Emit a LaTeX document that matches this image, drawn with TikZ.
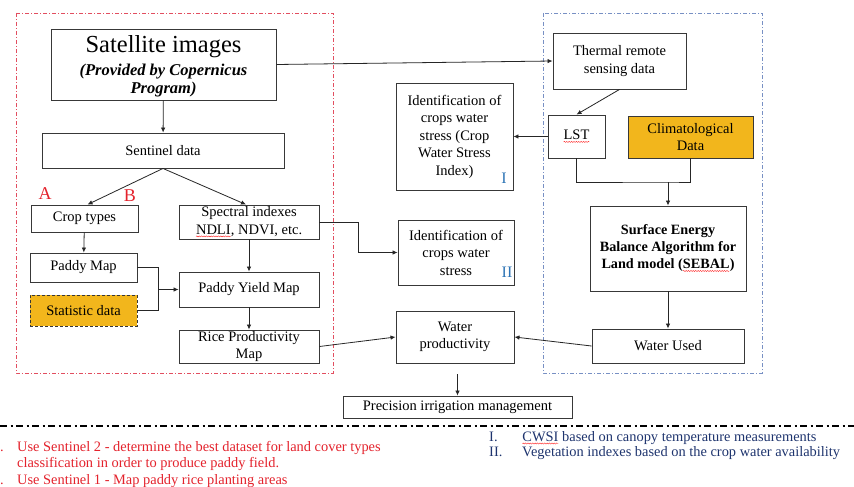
\documentclass[tikz,border=0pt]{standalone}
\usepackage{fontspec}
\setmainfont{Liberation Serif}
\usetikzlibrary{arrows.meta,decorations.pathmorphing}
\definecolor{gold}{RGB}{242,182,28}
\definecolor{frred}{RGB}{226,78,96}
\definecolor{frblue}{RGB}{120,144,196}
\definecolor{notered}{RGB}{228,34,44}
\definecolor{noteblue}{RGB}{30,52,110}
\definecolor{romanblue}{RGB}{46,117,182}
% spell-check style wavy underline under a word
\newcommand\squig[1]{\tikz[baseline=(sqw.base)]{%
  \node[draw=none, fill=none, solid, inner sep=0pt, outer sep=0pt,
        minimum width=0pt, minimum height=0pt, anchor=base] (sqw) {#1};
  \draw[red!85, line width=0.4pt, solid, decorate,
        decoration={snake, amplitude=0.55pt, segment length=2.4pt}]
    ([yshift=-2pt]sqw.base west) -- ([yshift=-2pt]sqw.base east);}}
\newcommand\bigfont{\fontsize{24.5}{28}\selectfont}
\newcommand\provfont{\fontsize{16.5}{19}\selectfont\bfseries\itshape}
\tikzset{
  box/.style={draw=black!78, line width=0.9pt, inner sep=0pt, align=center,
    font=\fontsize{14.5}{17.5}\selectfont},
  goldbox/.style={box, fill=gold},
  arr/.style={-{Latex[length=5pt,width=4.5pt]}, line width=0.8pt, draw=black!85},
  ln/.style={line width=0.8pt, draw=black!85},
  frame/.style={line width=0.8pt, dash pattern=on 4pt off 2pt on 1pt off 2pt},
  roman/.style={text=romanblue, font=\fontsize{16}{16}\selectfont, inner sep=0pt},
  letter/.style={text=notered, font=\fontsize{18}{18}\selectfont, inner sep=0pt},
  note/.style={inner sep=0pt, anchor=base west, font=\fontsize{14.4}{16}\selectfont},
}
\begin{document}
\begin{tikzpicture}[x=1pt,y=-1pt]
\fill[white] (0,0) rectangle (854,487);
\useasboundingbox (0,0) rectangle (854,487);

% group frames
\draw[frame, draw=frred] (16,13) rectangle (333,373);
\draw[frame, draw=frblue] (543,13) rectangle (762,373);

% left column: optical processing chain
\node[box, minimum width=225pt, minimum height=71pt] (sat) at (163.5,64.5) {};
\node[align=center, inner sep=0pt] (sattxt) at ([yshift=-2pt]sat.center)
  {\bigfont Satellite images\\[5pt]
   \provfont (Provided by Copernicus\\[2pt]\provfont Program)};
\node[box, minimum width=242pt, minimum height=35pt] (sent) at (163,150.5) {Sentinel data};
\node[box, minimum width=107pt, minimum height=27pt] (crop) at (84.5,218.5) {Crop types};
\node[box, minimum width=140pt, minimum height=34pt] (spec) at (249,222)
  {Spectral indexes\\\squig{NDLI}, NDVI, etc.};
\node[box, minimum width=107pt, minimum height=29pt] (paddy) at (83.5,267.5) {Paddy Map};
\node[goldbox, densely dashed, minimum width=107pt, minimum height=31pt] (stat) at (83.5,310.5) {Statistic data};
\node[box, minimum width=140pt, minimum height=35pt] (pym) at (249,289.5) {Paddy Yield Map};
\node[box, minimum width=140pt, minimum height=33pt] (rice) at (249,346.5) {Rice Productivity\\Map};

\node[letter] (la) at (45,194) {A};
\node[letter] (lb) at (130,196) {B};

% middle column
\node[box, minimum width=117pt, minimum height=107pt] (id1) at (454.5,136.5)
  {Identification of\\crops water\\stress (Crop\\Water Stress\\Index)};
\node[roman] (r1) at (504,178) {I};
\node[box, minimum width=116pt, minimum height=65pt] (id2) at (456,252.5)
  {Identification of\\crops water\\stress};
\node[roman] (r2) at (507,272) {II};
\node[box, minimum width=118pt, minimum height=52pt] (wp) at (455,337) {Water\\productivity};
\node[box, minimum width=229pt, minimum height=22pt] (prec) at (457.5,407) {Precision irrigation management};

% right column: thermal / energy balance chain
\node[box, minimum width=133pt, minimum height=56pt] (therm) at (619.5,61) {Thermal remote\\sensing data};
\node[box, minimum width=57pt, minimum height=43pt] (lst) at (576.5,136.5) {\squig{LST}};
\node[goldbox, minimum width=125pt, minimum height=42pt] (clim) at (690.5,137) {Climatological\\Data};
\node[box, minimum width=156pt, minimum height=85pt, font=\fontsize{14.2}{17}\selectfont\bfseries] (sebal) at (668,248.5)
  {Surface Energy\\Balance Algorithm for\\Land model (\squig{SEBAL})};
\node[box, minimum width=152pt, minimum height=34pt] (wused) at (668,346) {Water Used};

% connectors
\draw[arr] (sat) -- (sent);
\draw[arr] (sent.south) -- ([xshift=3pt]crop.north);
\draw[arr] (sent.south) -- ([xshift=-3pt]spec.north);
\draw[arr] (crop) -- (paddy);
\draw[arr] (spec) -- (pym);
\draw[arr] (pym) -- (rice);
\coordinate (mrg) at (158,289.5);
\draw[ln] (paddy.east) -| (mrg);
\draw[ln] (stat.east) -| (mrg);
\draw[arr] (mrg) -- (pym.west);
\draw[arr] (sat.east) -- (therm.west);
\draw[arr] (therm.south) -- (lst.north);
\draw[arr] (lst.west) -- (id1.east);
\coordinate (jn) at (668,182);
\draw[ln] (lst.south) |- (jn) -| (clim.south);
\draw[arr] (jn) -- (sebal.north);
\draw[arr] (sebal) -- (wused);
\draw[arr] (wused.west) -- (wp.east);
\draw[arr] (rice.east) -- (wp.west);
\draw[arr] (spec.east) -- ++(39,0) |- (id2.west);
\draw[arr] ([yshift=-11pt]prec.north |- wp.south) -- (prec.north);

% separator
\coordinate (sepl) at (0,426);
\coordinate (sepr) at (854,426);
\draw[line width=1.4pt, dash pattern=on 7pt off 3.5pt on 2pt off 3.5pt] (sepl) -- (sepr);

% notes
\begin{scope}[every node/.style={note, text=notered}]
\node[anchor=base east] (n1) at (4,451.5) {1.};
\node (t1) at (17,451.5) {Use Sentinel 2 - determine the best dataset for land cover types};
\node (t1b) at (17,467) {classification in order to produce paddy field.};
\node[anchor=base east] (n2) at (4,484) {2.};
\node (t2) at (17,484) {Use Sentinel 1 - Map paddy rice planting areas};
\end{scope}
\begin{scope}[every node/.style={note, text=noteblue}]
\node (m1) at (489,441.5) {I.};
\node (u1) at (522,441.5) {\squig{CWSI} based on canopy temperature measurements};
\node (m2) at (489,456.5) {II.};
\node (u2) at (522,456.5) {Vegetation indexes based on the crop water availability};
\end{scope}
\end{tikzpicture}
\end{document}
